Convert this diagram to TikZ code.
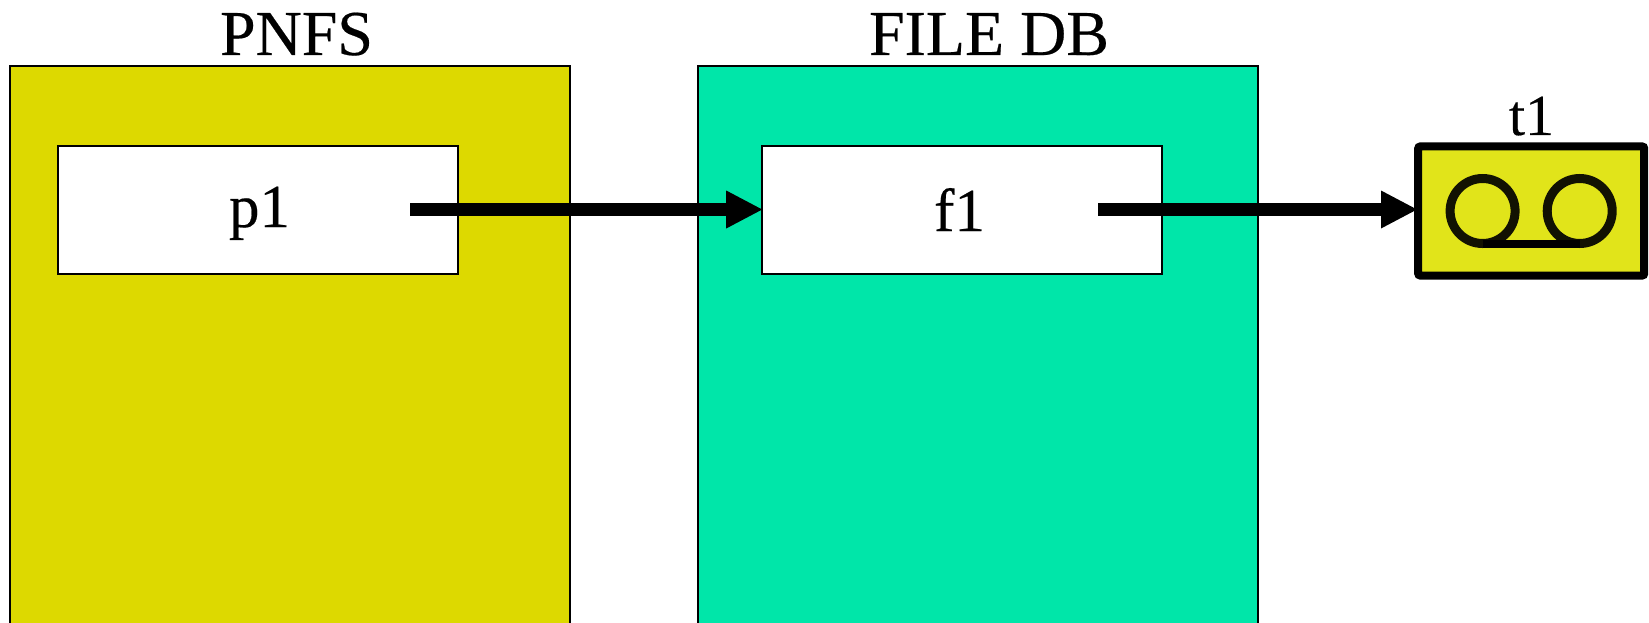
\documentclass[tikz,border=0pt]{standalone}
\usepackage{fontspec}
\setmainfont{Liberation Serif}
\newfontface\heavy{Liberation Serif}[FakeBold=0.3]
\usetikzlibrary{arrows.meta}
\definecolor{pnfsyellow}{HTML}{DDD900}
\definecolor{dbgreen}{HTML}{00E6A9}
\definecolor{tapeyellow}{HTML}{E1E41A}
\tikzset{
  panel/.style={draw=black,line width=2pt,rectangle,inner sep=0pt,outer sep=0pt},
  entry/.style={draw=black,line width=2pt,fill=white,rectangle,inner sep=0pt,outer sep=0pt},
  tapebox/.style={draw=black,line width=8pt,fill=tapeyellow,rounded corners=2pt,rectangle,inner sep=0pt,outer sep=0pt},
  reel/.style={draw=black!92!tapeyellow,line width=9pt,circle,inner sep=0pt,outer sep=0pt,minimum size=65pt},
  title/.style={anchor=base,inner sep=0pt,font=\heavy\fontsize{64}{64}\selectfont},
  label/.style={anchor=base,inner sep=0pt,font=\heavy\fontsize{61}{61}\selectfont},
  tlabel/.style={anchor=base,inner sep=0pt,font=\heavy\fontsize{58}{58}\selectfont},
  link/.style={line width=12.5pt,draw=black,-{Triangle[length=36pt,width=38pt,line width=0pt,fill=black]}},
}
\begin{document}
\begin{tikzpicture}[x=1pt,y=-1pt]
\useasboundingbox (0,0) rectangle (1649,623);
\clip (0,0) rectangle (1649,623);
\node[panel,fill=pnfsyellow,minimum width=560pt,minimum height=580pt] (pnfs) at (290,356) {};
\node[panel,fill=dbgreen,minimum width=560pt,minimum height=580pt] (filedb) at (978,356) {};
\node[entry,minimum width=400.5pt,minimum height=128pt] (p1box) at (258.2,210) {};
\node[entry,minimum width=400pt,minimum height=128pt] (f1box) at (962.2,210) {};
\node[title] (pnfstitle) at (296.5,55) {PNFS};
\node[title] (dbtitle) at (989,55) {FILE DB};
\node[label] (p1) at (259.5,227) {p1};
\node[label] (f1) at (959.5,231) {f1};
\node[tapebox,minimum width=226pt,minimum height=129pt] (t1box) at (1531.2,211) {};
\node[tlabel] (t1) at (1531.5,135) {t1};
\node[reel] (reelA) at (1482.6,211) {};
\node[reel] (reelB) at (1579.7,211) {};
\draw[line width=8pt,black] (reelA.south) -- (reelB.south);
\coordinate (p1start) at (410,209.5);
\coordinate (f1start) at (1098,209.5);
\coordinate (t1tip) at (1417,209.5);
\draw[link] (p1start) -- (p1start -| f1box.west);
\draw[link] (f1start) -- (t1tip);
\end{tikzpicture}
\end{document}
